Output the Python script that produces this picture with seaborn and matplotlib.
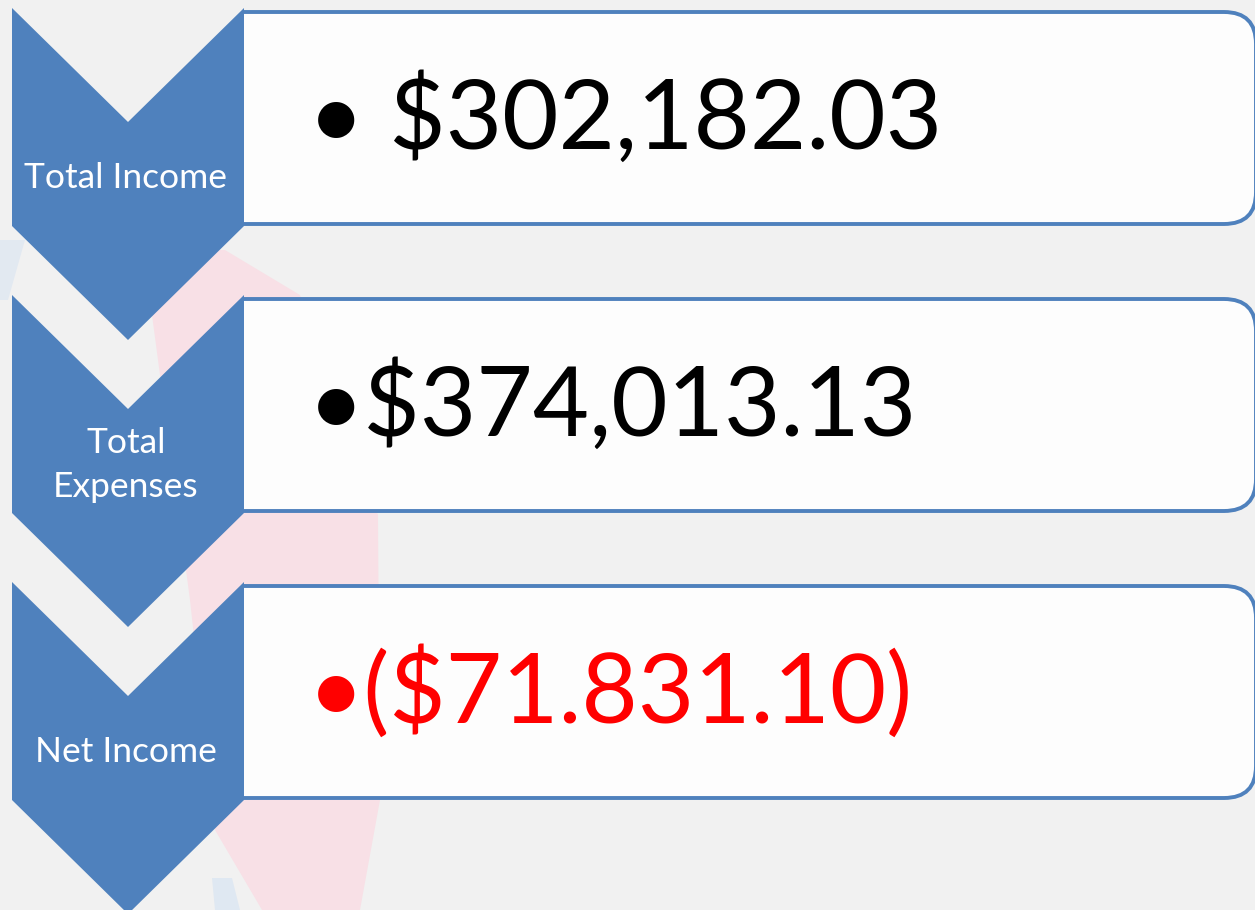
import matplotlib
matplotlib.use("Agg")
import matplotlib.pyplot as plt
import seaborn as sns
from matplotlib.patches import Polygon, FancyBboxPatch, Rectangle

# Diagram content
labels = ["Total Income", "Total\nExpenses", "Net Income"]
amounts = ["• $302,182.03", "•$374,013.13", "•($71.831.10)"]
amount_colors = ["black", "black", "red"]

sns.set_theme(style="white")
plt.rcParams["font.family"] = ["Lato", "DejaVu Sans"]

blue = "#4f81bd"

fig = plt.figure(figsize=(12.55, 9.10), dpi=100)
fig.patch.set_facecolor("#f1f1f1")
ax = fig.add_axes([0, 0, 1, 1])
ax.set_xlim(0, 1255)
ax.set_ylim(910, 0)
ax.axis("off")

# faint watermark behind the diagram
ax.add_patch(Polygon([(165, 250), (225, 250), (300, 295), (378, 515), (380, 800),
                      (360, 910), (262, 910), (215, 830), (190, 600), (150, 300)],
                     closed=True, facecolor="#f8e0e6", edgecolor="none", zorder=0))
ax.add_patch(Polygon([(0, 240), (25, 240), (8, 300), (0, 300)], closed=True,
                     facecolor="#e2e9f1", edgecolor="none", zorder=0))
ax.add_patch(Polygon([(212, 878), (232, 878), (240, 910), (215, 910)], closed=True,
                     facecolor="#dfe8f2", edgecolor="none", zorder=0))

step = 287
for i, (lab, amt, col) in enumerate(zip(labels, amounts, amount_colors)):
    top = 8 + i * step

    # rounded value box, left side cut at the chevron edge
    box = FancyBboxPatch((200, top + 4), 1056, 212,
                         boxstyle="round,pad=0,rounding_size=32",
                         facecolor="#fdfdfd", edgecolor=blue, linewidth=2.8, zorder=1)
    ax.add_patch(box)
    clip = Rectangle((244, 0), 1100, 910, transform=ax.transData)
    box.set_clip_path(clip)

    # chevron
    chev = Polygon([(12, top), (128, top + 114), (244, top), (244, top + 218),
                    (128, top + 332), (12, top + 218)], closed=True,
                   facecolor=blue, edgecolor="none", zorder=2)
    ax.add_patch(chev)

    # label lines
    lines = lab.split("\n")
    n = len(lines)
    for k, line in enumerate(lines):
        y = top + 180 + (k - (n - 1) / 2) * 44
        ax.text(126, y, line, color="white", fontsize=25.5, ha="center",
                va="baseline", zorder=3)

    ax.text(308, top + 141, amt, color=col, fontsize=70, ha="left",
            va="baseline", zorder=3)

fig.savefig("out.png", dpi=100, facecolor=fig.get_facecolor())
